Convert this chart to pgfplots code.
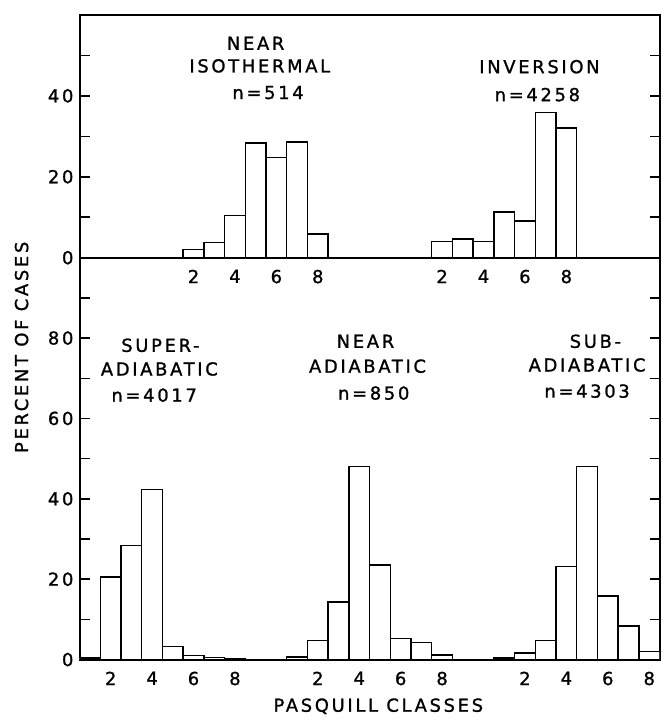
\documentclass[border=0pt]{standalone}
\usepackage{fontspec}
\setmainfont{DejaVu Sans}[LetterSpace=15, FakeBold=1.2]
\usepackage{pgfplots}
\pgfplotsset{compat=1.18}

% Pasquill class histograms (class k of each group plotted at k + offset)
\pgfplotsset{
  panel/.style={
    scale only axis, width=583pt,
    xmin=0.5, xmax=28.5, enlargelimits=false,
    axis line style={line width=2pt},
    tick style={line width=1.5pt, black},
    major tick length=10pt, minor tick length=10pt,
    tick align=inside,
    ytick pos=both, yticklabel pos=left,
    major x tick style={draw=none},
    /pgf/number format/assume math mode=true,
    every tick label/.append style={font=\fontsize{18}{21}\selectfont},
    xticklabel style={yshift=-6pt},
  },
  hist/.style={ybar, bar width=1, fill=white, draw=black, line width=1.5pt},
}
\tikzset{lab/.style={font=\fontsize{18}{21}\selectfont, anchor=center}}

\begin{document}
\fontsize{18}{21}\selectfont
\begin{tikzpicture}
\path (-80pt,-57pt) rectangle (588pt,663pt);

% lower panel: super-adiabatic, near adiabatic, sub-adiabatic
\begin{axis}[panel, name=lower,
  at={(0pt,0pt)}, anchor=south west,
  height=404pt, ymin=0, ymax=100,
  ytick={0,20,40,60,80}, minor ytick={10,30,50,70,90},
  xtick={2,4,6,8,12,14,16,18,22,24,26,28},
  xticklabels={2,4,6,8,2,4,6,8,2,4,6,8},
  xlabel={PASQUILL CLASSES},
  xlabel style={at={(rel axis cs:0.515,-0.116)}, anchor=center, font=\fontsize{18}{21}\selectfont},
  ylabel={PERCENT OF CASES},
  ylabel style={at={(rel axis cs:-0.1,0.777)}, anchor=center, font=\fontsize{18}{21}\selectfont},
]
\addplot[hist] coordinates {(1,0.4) (2,20.5) (3,28.4) (4,42.3) (5,3.2) (6,1.0) (7,0.5) (8,0.3)};
\addplot[hist] coordinates {(11,0.6) (12,4.7) (13,14.3) (14,48.1) (15,23.5) (16,5.2) (17,4.2) (18,1.2)};
\addplot[hist] coordinates {(21,0.4) (22,1.7) (23,4.7) (24,23.2) (25,48.1) (26,15.8) (27,8.4) (28,2.0)};
\node[lab] at (axis cs:4.4,78.2) {SUPER-};
\node[lab] at (axis cs:4.35,72.3) {ADIABATIC};
\node[lab] at (axis cs:4.1,65.8) {n=4017};
\node[lab] at (axis cs:14.3,79.2) {NEAR};
\node[lab] at (axis cs:14.4,73.0) {ADIABATIC};
\node[lab] at (axis cs:14.7,66.3) {n=850};
\node[lab] at (axis cs:25.4,79.2) {SUB-};
\node[lab] at (axis cs:25.0,73.3) {ADIABATIC};
\node[lab] at (axis cs:25.0,66.8) {n=4303};
\end{axis}

% upper panel: near isothermal, inversion
\begin{axis}[panel,
  at={(0pt,404pt)}, anchor=south west,
  height=244pt, ymin=0, ymax=60,
  ytick={0,20,40}, minor ytick={10,30,50},
  xtick={6,8,10,12,18,20,22,24},
  xticklabels={2,4,6,8,2,4,6,8},
]
\addplot[hist] coordinates {(6,2.0) (7,3.7) (8,10.4) (9,28.4) (10,24.7) (11,28.6) (12,5.9)};
\addplot[hist] coordinates {(18,4.0) (19,4.6) (20,4.0) (21,11.3) (22,9.1) (23,35.9) (24,32.0)};
\node[lab] at (axis cs:9.0,53.0) {NEAR};
\node[lab] at (axis cs:9.2,47.4) {ISOTHERMAL};
\node[lab] at (axis cs:9.6,40.8) {n=514};
\node[lab] at (axis cs:22.7,47.2) {INVERSION};
\node[lab] at (axis cs:22.6,40.3) {n=4258};
\end{axis}
\end{tikzpicture}
\end{document}
